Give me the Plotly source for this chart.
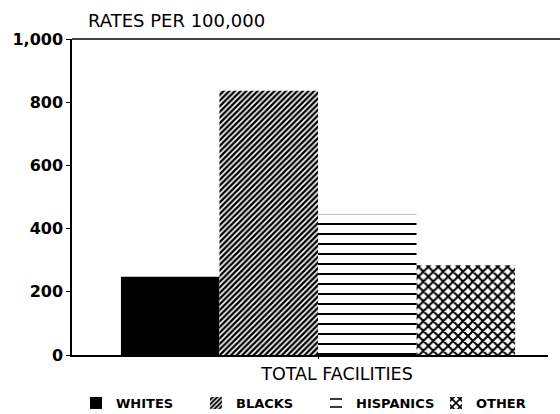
import plotly.graph_objects as go

categories = ["TOTAL FACILITIES"]
series_names = ["WHITES", "BLACKS", "HISPANICS", "OTHER"]
rates = [248, 836, 444, 284]
y_ticks = [0, 200, 400, 600, 800, 1000]

patterns = [
    dict(shape="", ),
    dict(shape="/", size=4, solidity=0.6),
    dict(shape="-", size=10, solidity=0.2),
    dict(shape="x", size=7, solidity=0.5),
]

fig = go.Figure()
for name, val, pat in zip(series_names, rates, patterns):
    marker = dict(color="black", line=dict(width=0))
    if pat["shape"]:
        marker["color"] = "white"
        marker["pattern"] = dict(shape=pat["shape"], size=pat["size"], solidity=pat["solidity"],
                                 fgcolor="black", bgcolor="white", fillmode="replace")
    fig.add_trace(go.Bar(x=categories, y=[val], name=name, marker=marker))

W, H = 560, 414
L, R, T, B = 72, 12, 39, 59
pw = W - L - R
center_px = 318
x0 = -(center_px - L) / pw
fig.update_layout(
    template="none",
    width=W, height=H,
    margin=dict(l=L, r=R, t=T, b=B, autoexpand=False),
    paper_bgcolor="white", plot_bgcolor="white",
    barmode="group", bargap=0.172, bargroupgap=0,
    font=dict(family="DejaVu Sans", color="black"),
    title=dict(text="RATES PER 100,000", x=88 / W, xanchor="left", xref="container",
               y=1 - 21 / H, yanchor="middle", yref="container",
               font=dict(family="DejaVu Sans", size=18, color="black")),
    xaxis=dict(range=[x0, x0 + 1], showline=True, linecolor="black", linewidth=1.5,
               ticks="outside", ticklen=2, tickcolor="black", showgrid=False,
               automargin=False, ticklabelshift=19,
               tickfont=dict(family="DejaVu Sans", size=17.5, color="black")),
    yaxis=dict(range=[0, 1000], tickvals=y_ticks, tickformat=",", showline=True,
               linecolor="black", linewidth=1.5, ticks="outside", ticklen=4,
               tickcolor="black", showgrid=False, zeroline=False, automargin=False,
               tickfont=dict(family="DejaVu Sans", size=16, color="black", weight="bold")),
    legend=dict(orientation="h", x=76 / W, xref="container", xanchor="left",
                y=1 - 403 / H, yref="container", yanchor="middle",
                entrywidth=75, entrywidthmode="pixels",
                font=dict(family="DejaVu Sans", size=13, color="black", weight="bold"),
                bgcolor="rgba(0,0,0,0)", traceorder="normal"),
    showlegend=True,
    shapes=[dict(type="line", xref="paper", yref="paper", x0=0, x1=(W - L) / pw, y0=1, y1=1,
                 line=dict(color="black", width=1.5))],
)

fig.write_html("out.html", config={"displayModeBar": False},
               post_script="document.body.style.margin='0px';")
